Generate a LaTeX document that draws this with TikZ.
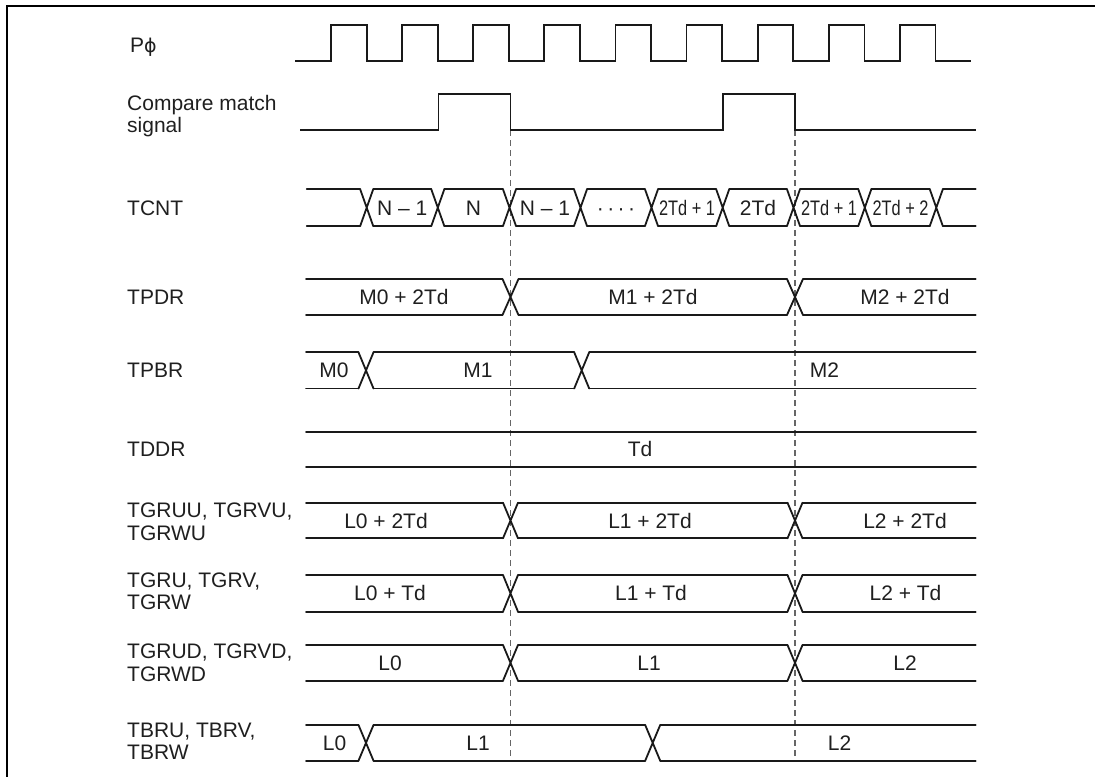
\documentclass[tikz,border=0pt]{standalone}
\usepackage{fontspec}
\setmainfont{Liberation Sans}
\newfontfamily\symfont{DejaVu Sans}
\usepackage{graphicx}
\newcommand\bus[6]{%
  \draw[sig] (#3,#1) foreach \t in {#6} { -- ({\t-#5},#1) ({\t+#5},#1) } -- (#4,#1);
  \draw[sig] (#3,#2) foreach \t in {#6} { -- ({\t-#5},#2) ({\t+#5},#2) } -- (#4,#2);
  \foreach \t in {#6} { \draw[sig] ({\t-#5},#1) -- ({\t+#5},#2) ({\t-#5},#2) -- ({\t+#5},#1); }%
}
\newcommand\cnd[1]{\scalebox{0.78}[1]{#1}}
\begin{document}
\begin{tikzpicture}[x=1pt,y=-1pt,
  sig/.style={line width=1.8pt, line cap=round, line join=round, color=black!90},
  pulse/.style={line width=1.8pt, line join=miter, color=black!90},
  frame/.style={line width=2pt, color=black},
  guide/.style={line width=1.2pt, dash pattern=on 6pt off 4pt, color=black!60},
  lbl/.style={anchor=west, align=left, inner sep=0pt, font=\fontsize{21}{22.6}\selectfont, text=black!88},
  lbls/.style={anchor=base west, inner sep=0pt, font=\fontsize{21}{22.6}\selectfont, text=black!88},
  val/.style={anchor=base, inner sep=0pt, font=\fontsize{21}{22.6}\selectfont, text=black!88}]
\useasboundingbox (0,0) rectangle (1095,777);
% frame
\coordinate (fr1) at (1095,6);
\coordinate (fr2) at (7,6);
\coordinate (fr3) at (7,777);
\draw[frame] (fr1) -- (fr2) -- (fr3);
% dashed guides
\coordinate (g1a) at (510.5,130); \coordinate (g1b) at (510.5,762);
\coordinate (g2a) at (795,130);   \coordinate (g2b) at (795,762);
\draw[guide] (g1a) -- (g1b);
\draw[guide] (g2a) -- (g2b);
% labels
\node[lbls] (lphi) at (130,52.5) {P{\symfont\fontsize{19}{22}\selectfont ϕ}};
\node[lbl] (lcmp) at (127,116) {Compare match\\signal};
\node[lbls] (ltcnt) at (127,215) {TCNT};
\node[lbls] (ltpdr) at (127,304) {TPDR};
\node[lbls] (ltpbr) at (127,377.5) {TPBR};
\node[lbls] (ltddr) at (127,456) {TDDR};
\node[lbl] (ltgruu) at (127,522) {TGRUU, TGRVU,\\TGRWU};
\node[lbl] (ltgru) at (127,591.3) {TGRU, TGRV,\\TGRW};
\node[lbl] (ltgrud) at (127,663) {TGRUD, TGRVD,\\TGRWD};
\node[lbl] (ltbru) at (127,741.3) {TBRU, TBRV,\\TBRW};
% clock
\draw[pulse] (295,61) foreach \k in {0,...,8} { -- ({331+71.1*\k},61) -- ({331+71.1*\k},24.7) -- ({366.7+71.1*\k},24.7) -- ({366.7+71.1*\k},61) } -- (971,61);
% compare match
\draw[pulse] (300,130) -- (438.5,130) -- (438.5,94) -- (510.5,94) -- (510.5,130) -- (722.7,130) -- (722.7,94) -- (795,94) -- (795,130) -- (976,130);
% TCNT
\bus{189.3}{226}{306.7}{975.7}{6.5}{366.7,437.8,509.5,580.5,651.5,722.7,793.5,864.8,936.3}
\node[val] (c1) at (402.2,215) {N – 1};
\node[val] (c2) at (473.5,215) {N};
\node[val] (c3) at (545,215) {N – 1};
\node[val] (c4) at (616,215) {·\,·\,·\,·};
\node[val] (c5) at (687,215) {\cnd{2Td + 1}};
\node[val] (c6) at (758,215) {2Td};
\node[val] (c7) at (829,215) {\cnd{2Td + 1}};
\node[val] (c8) at (900.5,215) {\cnd{2Td + 2}};
% TPDR
\bus{279}{315}{306}{975.7}{8}{510.5,795}
\node[val] (p1) at (404,304.5) {M0 + 2Td};
\node[val] (p2) at (653,304.5) {M1 + 2Td};
\node[val] (p3) at (905,304.5) {M2 + 2Td};
% TPBR
\bus{352.3}{388.5}{306}{975.7}{7.5}{366,581.7}
\node[val] (b1) at (334,377.5) {M0};
\node[val] (b2) at (478,377.5) {M1};
\node[val] (b3) at (824.5,377.5) {M2};
% TDDR
\bus{431.7}{467}{306}{976}{7.5}{}
\node[val] (d1) at (640,456.5) {Td};
% TGRUU
\bus{502.7}{538.3}{306}{975.7}{7.5}{510.5,795}
\node[val] (u1) at (386,528) {L0 + 2Td};
\node[val] (u2) at (650,528) {L1 + 2Td};
\node[val] (u3) at (905,528) {L2 + 2Td};
% TGRU
\bus{575}{611.7}{306}{975.7}{7.5}{510.5,795}
\node[val] (t1) at (390,600.8) {L0 + Td};
\node[val] (t2) at (651,600.8) {L1 + Td};
\node[val] (t3) at (905.5,600.8) {L2 + Td};
% TGRUD
\bus{645}{680.7}{306}{975.7}{7.5}{510.5,795}
\node[val] (w1) at (390,670.3) {L0};
\node[val] (w2) at (649,670.3) {L1};
\node[val] (w3) at (905,670.3) {L2};
% TBRU
\bus{725}{760.7}{306}{975.7}{7.5}{366,652.7}
\node[val] (r1) at (334.5,750.3) {L0};
\node[val] (r2) at (478,750.3) {L1};
\node[val] (r3) at (839.5,750.3) {L2};
\end{tikzpicture}
\end{document}
